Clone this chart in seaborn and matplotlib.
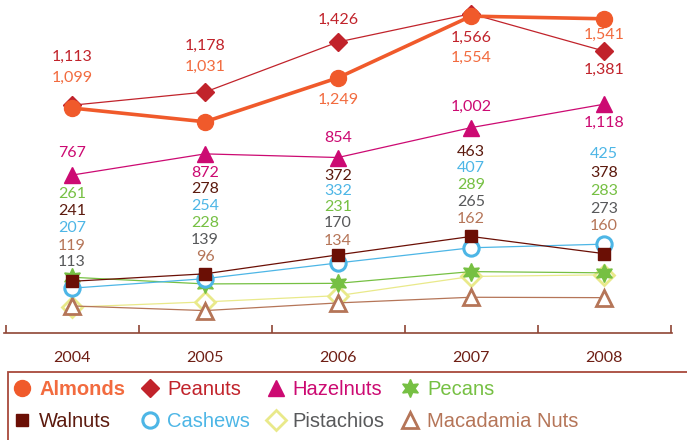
import numpy as np
import pandas as pd
import matplotlib.pyplot as plt
import seaborn as sns
from matplotlib import transforms, patches
from matplotlib.lines import Line2D

# data
years = ['2004', '2005', '2006', '2007', '2008']
almonds = [1099, 1031, 1249, 1554, 1541]
peanuts = [1113, 1178, 1426, 1566, 1381]
hazelnuts = [767, 872, 854, 1002, 1118]
pecans = [261, 228, 231, 289, 283]
walnuts = [241, 278, 372, 463, 378]
cashews = [207, 254, 332, 407, 425]
pistachios = [113, 139, 170, 265, 273]
macadamia = [119, 96, 134, 162, 160]

series = {
    'Almonds': almonds, 'Peanuts': peanuts, 'Hazelnuts': hazelnuts,
    'Pecans': pecans, 'Walnuts': walnuts, 'Cashews': cashews,
    'Pistachios': pistachios, 'Macadamia Nuts': macadamia,
}

# styling per series
styles = {
    'Almonds': dict(color='#F05A2B', marker='o', ms=11.5, mfc='#F05A2B', mec='#F05A2B', mew=1, lw=2.6, label_color='#F26B3F'),
    'Peanuts': dict(color='#C1232B', marker='D', ms=9, mfc='#C1232B', mec='#C1232B', mew=1, lw=0.9, label_color='#C1232B'),
    'Hazelnuts': dict(color='#CC0A72', marker='^', ms=11, mfc='#CC0A72', mec='#CC0A72', mew=1, lw=0.9, label_color='#CC0A72'),
    'Pecans': dict(color='#76C043', marker=(6, 1, 0), ms=13, mfc='#76C043', mec='#76C043', mew=1, lw=0.9, label_color='#76C043'),
    'Walnuts': dict(color='#6B0F05', marker='s', ms=9, mfc='#6B0F05', mec='#6B0F05', mew=1, lw=0.9, label_color='#5C1A0E'),
    'Cashews': dict(color='#4DB6E6', marker='o', ms=11, mfc='white', mec='#4DB6E6', mew=2.2, lw=0.9, label_color='#4DB6E6'),
    'Pistachios': dict(color='#E9E98A', marker='D', ms=10, mfc='white', mec='#E9E98A', mew=2, lw=0.9, label_color='#58595B'),
    'Macadamia Nuts': dict(color='#B57558', marker='^', ms=12, mfc='white', mec='#B57558', mew=2, lw=0.9, label_color='#B57558'),
}
draw_order = ['Pistachios', 'Macadamia Nuts', 'Pecans', 'Cashews', 'Walnuts',
              'Hazelnuts', 'Peanuts', 'Almonds']

# where the value labels sit (pixels from the top of the image)
label_y_px = {
    'Almonds': [78, 67, 100, 58, 35],
    'Peanuts': [57, 46, 20, 38, 70],
    'Hazelnuts': [153, 173, 138, 107, 123],
    'Pecans': [194, 223, 207, 185, 191],
    'Walnuts': [211, 189, 176, 152, 173],
    'Cashews': [228, 206, 191, 168, 154],
    'Pistachios': [262, 240, 223, 202, 209],
    'Macadamia Nuts': [246, 257, 241, 219, 226],
}

rows = []
for name, vals in series.items():
    for i, v in enumerate(vals):
        rows.append({'nut': name, 'idx': i, 'value': v})
df = pd.DataFrame(rows)

sns.set_style('white')
plt.rcParams['font.family'] = ['Lato', 'DejaVu Sans']

W, H = 687, 440
fig = plt.figure(figsize=(W / 100, H / 100), dpi=100)
ax = fig.add_axes([4.2 / W, 107 / H, 667.7 / W, 333 / H])

for name in draw_order:
    st = styles[name]
    sns.lineplot(data=df[df['nut'] == name], x='idx', y='value', ax=ax,
                 color=st['color'], linewidth=st['lw'], marker=st['marker'],
                 markersize=st['ms'], markerfacecolor=st['mfc'],
                 markeredgecolor=st['mec'], markeredgewidth=st['mew'],
                 clip_on=False)

ax.set_xlim(-0.51, 4.51)
ax.set_ylim(-15, 1634)
ax.set_xlabel('')
ax.set_ylabel('')
ax.set_yticks([])
for s in ['left', 'top', 'right']:
    ax.spines[s].set_visible(False)
axis_color = '#8F4535'
ax.spines['bottom'].set_color(axis_color)
ax.spines['bottom'].set_linewidth(1.2)
ax.set_xticks(range(len(years)))
ax.set_xticklabels(years)
ax.set_xticks(np.arange(-0.5, 5, 1), minor=True)
ax.tick_params(axis='x', which='major', length=0, pad=13, labelsize=11.5,
               labelcolor='#6E1E14')
ax.tick_params(axis='x', which='minor', direction='in', length=6, width=1.2,
               color=axis_color, bottom=True)

# value labels
trans = transforms.blended_transform_factory(ax.transData, fig.transFigure)
for name, vals in series.items():
    for i, v in enumerate(vals):
        ax.text(i, 1 - label_y_px[name][i] / H, f'{v:,}', transform=trans,
                ha='center', va='center', fontsize=11.5,
                color=styles[name]['label_color'])

# legend with a box running off the figure edge
fig.add_artist(patches.Rectangle((8 / W, -0.1), 1.2, (H - 372) / H + 0.1,
                                 transform=fig.transFigure, fill=False,
                                 edgecolor='#A8493B', linewidth=1.3))
leg_order = ['Almonds', 'Walnuts', 'Peanuts', 'Cashews', 'Hazelnuts',
             'Pistachios', 'Pecans', 'Macadamia Nuts']
handles = []
for name in leg_order:
    st = styles[name]
    handles.append(Line2D([], [], linestyle='none', marker=st['marker'],
                          markersize=st['ms'], markerfacecolor=st['mfc'],
                          markeredgecolor=st['mec'], markeredgewidth=st['mew']))
leg = fig.legend(handles, leg_order, ncol=4, loc='upper left',
                 bbox_to_anchor=(14 / W, 1 - 380 / H), frameon=False,
                 borderpad=0, borderaxespad=0, handlelength=0.8,
                 handletextpad=0.45, columnspacing=0.85, labelspacing=0.65,
                 prop={'family': 'Liberation Sans', 'size': 14.5})
for txt, name in zip(leg.get_texts(), leg_order):
    txt.set_color(styles[name]['label_color'])
    if name == 'Almonds':
        txt.set_fontweight('bold')

fig.savefig('out.png', dpi=100)
